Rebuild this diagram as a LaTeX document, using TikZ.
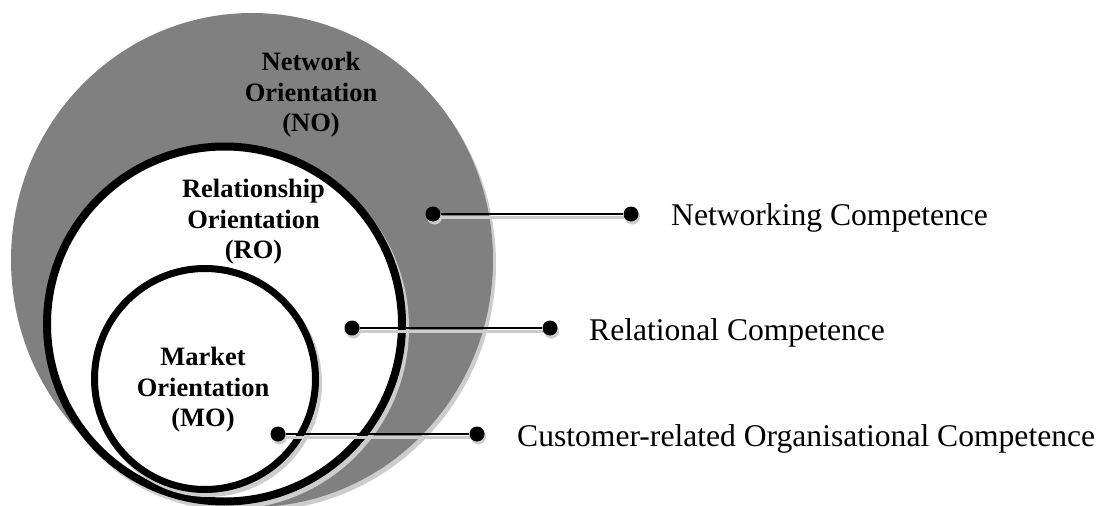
\documentclass[tikz,border=0pt]{standalone}
\usepackage{fontspec}
\setmainfont{Liberation Serif}
\pgfdeclarelayer{back}
\pgfdeclarelayer{shade}
\pgfsetlayers{back,shade,main}
\definecolor{nogray}{RGB}{128,128,128}
\definecolor{shadowgray}{RGB}{205,205,205}
\tikzset{
  lbl/.style={font=\fontsize{26.5}{30.5}\selectfont\bfseries, align=center, inner sep=0pt, anchor=north},
  comp/.style={font=\fontsize{31.6}{36}\selectfont, inner sep=0pt, anchor=base west},
  dot/.style={circle, fill=black, inner sep=0pt, minimum size=15pt},
  conn/.style={draw=black, line width=2.8pt},
  connshadow/.style={draw=shadowgray, line width=3.2pt},
}
\begin{document}
\begin{tikzpicture}[x=1pt,y=-1pt]
\useasboundingbox (0,0) rectangle (1104,506);
\begin{pgfonlayer}{back}
  % shadows and circles
  \fill[shadowgray] (255,264) ellipse [x radius=241pt, y radius=247pt];
  \fill[nogray] (252,260) ellipse [x radius=241pt, y radius=247pt];
  \draw[shadowgray, line width=8pt] (227.5,328) circle [radius=177.5pt];
  \draw[black, line width=8pt, fill=white] (224.5,324) circle [radius=177.5pt];
  \draw[shadowgray, line width=7pt] (208,383) circle [radius=110.5pt];
  \draw[black, line width=7pt, fill=white] (205,379) circle [radius=110.5pt];
\end{pgfonlayer}

% circle labels
\node[lbl] (no) at (311,52) {Network\\Orientation\\(NO)};
\node[lbl] (ro) at (253.5,179) {Relationship\\Orientation\\(RO)};
\node[lbl] (mo) at (203,347) {Market\\Orientation\\(MO)};

% dots
\node[dot] (n1) at (433,214) {};
\node[dot] (n2) at (631,214) {};
\node[dot] (r1) at (352,328) {};
\node[dot] (r2) at (550,328) {};
\node[dot] (c1) at (278,434) {};
\node[dot] (c2) at (477,434) {};

% competence labels
\node[comp] (nc) at (671,225) {Networking Competence};
\node[comp] (rc) at (589,340) {Relational Competence};
\node[comp] (cc) at (517,446) {Customer-related Organisational Competence};

% connector shadows
\begin{pgfonlayer}{shade}
  \foreach \a/\b in {n1/n2, r1/r2, c1/c2} {
    \draw[connshadow] ([yshift=-3.4pt]\a.center) -- ([yshift=-3.4pt]\b.center);
    \fill[shadowgray] ([shift={(1.5pt,-3pt)}]\a.center) circle (7.5pt);
    \fill[shadowgray] ([shift={(1.5pt,-3pt)}]\b.center) circle (7.5pt);
  }
\end{pgfonlayer}

% connectors
\draw[conn] (n1) -- (n2);
\draw[conn] (r1) -- (r2);
\draw[conn] (c1) -- (c2);
\end{tikzpicture}
\end{document}
